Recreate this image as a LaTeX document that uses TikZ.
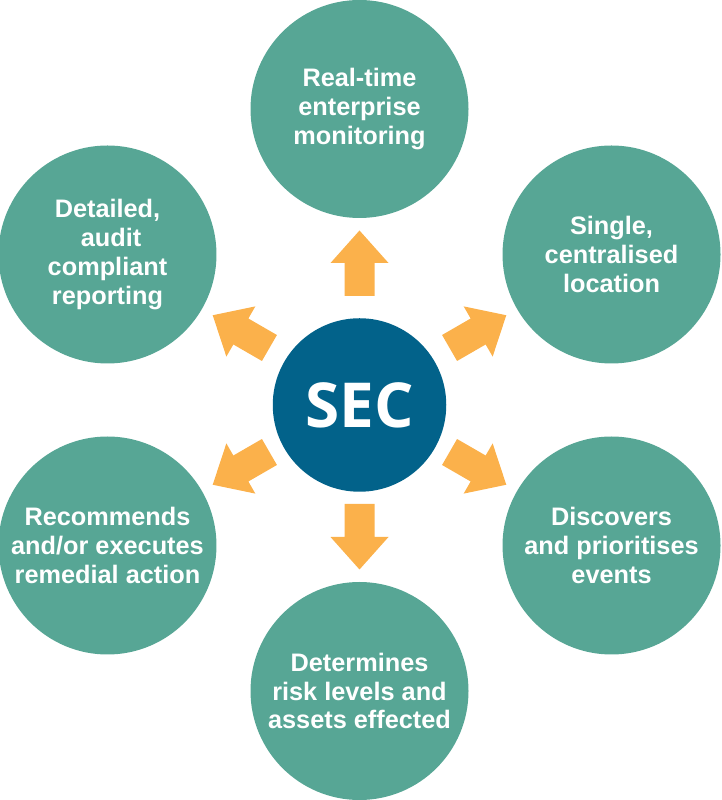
\documentclass[tikz,border=0pt]{standalone}
\usepackage{fontspec}
\setmainfont{Liberation Sans}
\newfontfamily\secfont{Open Sans}
\definecolor{circteal}{RGB}{87,166,149}
\definecolor{hubblue}{RGB}{2,98,138}
\definecolor{arroworange}{RGB}{251,177,75}
\tikzset{
  outer/.style={circle, fill=circteal, minimum size=218pt, inner sep=0pt,
    text=white, align=center, font=\fontsize{25.3}{28.9}\selectfont\bfseries},
  hub/.style={circle, fill=hubblue, minimum size=173.5pt, inner sep=0pt,
    text=white, font=\secfont\fontsize{62}{66}\selectfont\bfseries},
  blockarrow/.style={fill=arroworange}
}
\begin{document}
\begin{tikzpicture}[x=1pt,y=1pt]
\useasboundingbox (0,0) rectangle (721,800);
\coordinate (H) at (359.5,400);
\node[hub] (sec) at (359.5,395) {SEC};
\node[outer] (top) at ([shift={(90:291)}]H) {Real-time\\enterprise\\monitoring};
\node[outer] (tr) at ([shift={(30:291)}]H) {Single,\\centralised\\location};
\node[outer] (br) at ([shift={(-30:291)}]H) {Discovers\\and prioritises\\events};
\node[outer] (bot) at ([shift={(-90:291)}]H) {Determines\\risk levels and\\assets effected};
\node[outer] (bl) at ([shift={(-150:291)}]H) {Recommends\\and/or executes\\remedial action};
\node[outer] (tl) at ([shift={(150:291)}]H) {Detailed,\\\hspace*{0.28em}audit\\compliant\\reporting};
\foreach \a in {90,30,-30,-90,-150,150}
  \fill[blockarrow, shift={(H)}, rotate=\a]
    (104,-15) -- (137,-15) -- (137,-29) -- (169.5,0) -- (137,29) -- (137,15) -- (104,15) -- cycle;
\end{tikzpicture}
\end{document}
